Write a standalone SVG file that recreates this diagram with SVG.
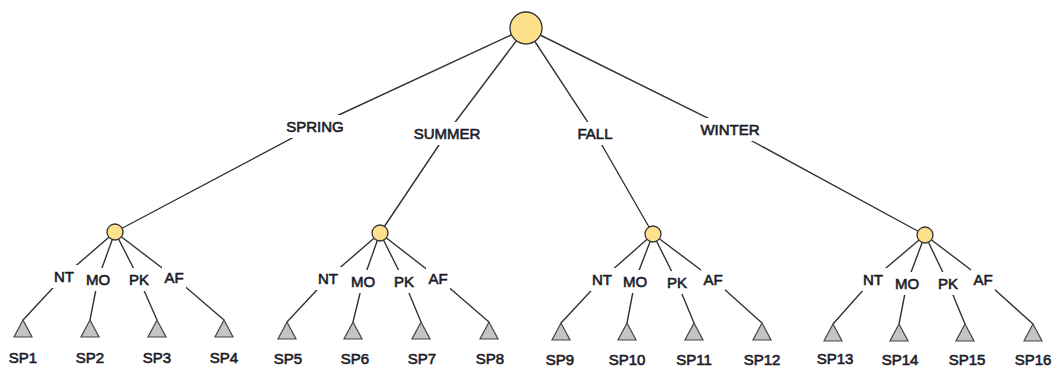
<svg xmlns="http://www.w3.org/2000/svg" xmlns:xlink="http://www.w3.org/1999/xlink" width="1060" height="370" viewBox="0 0 1060 370">
  <style>
    .edge { fill: none; stroke: #333333; stroke-width: 1.4; }
    .hub { fill: #FFE08C; stroke: #333333; stroke-width: 1.3; }
    .leaf { fill: #C4C4C4; stroke: #444444; stroke-width: 1.2; }
    .bg { fill: #ffffff; }
    text { font-family: "Liberation Sans", Arial, sans-serif; font-size: 15px; fill: #1c1c28; stroke: #1c1c28; stroke-width: 0.6; text-anchor: middle; dominant-baseline: central; }
  </style>
  <defs>
    <path id="tri" class="leaf" d="M0,0 L9,17 L-9,17 Z"/>
  </defs>
  <rect width="1060" height="370" fill="#ffffff"/>

  <!-- connectors: each edge bends at its label centre -->
  <g id="connectors">
    <polyline class="edge" points="526,28 315,126 115,232"/>
    <polyline class="edge" points="526,28 447,133 380,233"/>
    <polyline class="edge" points="526,28 595,133 653,234"/>
    <polyline class="edge" points="526,28 730,129 925,235"/>

    <polyline class="edge" points="115,232 64,276 23,320"/>
    <polyline class="edge" points="115,232 98,279 90,320"/>
    <polyline class="edge" points="115,232 139,279 157,320"/>
    <polyline class="edge" points="115,232 174,277 224,320"/>

    <polyline class="edge" points="380,233 328,278 287,322"/>
    <polyline class="edge" points="380,233 363,281 353,322"/>
    <polyline class="edge" points="380,233 404,281 421,322"/>
    <polyline class="edge" points="380,233 438,278 489,322"/>

    <polyline class="edge" points="653,234 602,279 561,323"/>
    <polyline class="edge" points="653,234 635,281 627,323"/>
    <polyline class="edge" points="653,234 677,282 694,323"/>
    <polyline class="edge" points="653,234 713,279 762,323"/>

    <polyline class="edge" points="925,235 873,279 833,324"/>
    <polyline class="edge" points="925,235 907,283 899,324"/>
    <polyline class="edge" points="925,235 948,283 965,324"/>
    <polyline class="edge" points="925,235 983,279 1033,324"/>
  </g>

  <!-- edge labels with white backing -->
  <g id="edge-labels">
    <rect class="bg" x="283" y="115" width="64" height="23"/><text x="315" y="126">SPRING</text>
    <rect class="bg" x="409" y="122" width="76" height="23"/><text x="447" y="133">SUMMER</text>
    <rect class="bg" x="574" y="122" width="42" height="23"/><text x="595" y="133">FALL</text>
    <rect class="bg" x="695" y="118" width="70" height="23"/><text x="730" y="129">WINTER</text>

    <rect class="bg" x="50" y="265" width="28" height="23"/><text x="64" y="276">NT</text>
    <rect class="bg" x="82" y="268" width="32" height="23"/><text x="98" y="279">MO</text>
    <rect class="bg" x="126" y="268" width="26" height="23"/><text x="139" y="279">PK</text>
    <rect class="bg" x="162" y="266" width="24" height="23"/><text x="174" y="277">AF</text>

    <rect class="bg" x="314" y="267" width="28" height="23"/><text x="328" y="278">NT</text>
    <rect class="bg" x="347" y="270" width="32" height="23"/><text x="363" y="281">MO</text>
    <rect class="bg" x="391" y="270" width="26" height="23"/><text x="404" y="281">PK</text>
    <rect class="bg" x="426" y="267" width="24" height="23"/><text x="438" y="278">AF</text>

    <rect class="bg" x="588" y="268" width="28" height="23"/><text x="602" y="279">NT</text>
    <rect class="bg" x="619" y="270" width="32" height="23"/><text x="635" y="281">MO</text>
    <rect class="bg" x="664" y="271" width="26" height="23"/><text x="677" y="282">PK</text>
    <rect class="bg" x="701" y="268" width="24" height="23"/><text x="713" y="279">AF</text>

    <rect class="bg" x="859" y="268" width="28" height="23"/><text x="873" y="279">NT</text>
    <rect class="bg" x="891" y="272" width="32" height="23"/><text x="907" y="283">MO</text>
    <rect class="bg" x="935" y="272" width="26" height="23"/><text x="948" y="283">PK</text>
    <rect class="bg" x="971" y="268" width="24" height="23"/><text x="983" y="279">AF</text>
  </g>

  <!-- root and season hubs -->
  <g id="root"><circle class="hub" cx="526" cy="28" r="16"/></g>
  <g id="spring"><circle class="hub" cx="115" cy="232" r="8"/></g>
  <g id="summer"><circle class="hub" cx="380" cy="233" r="8"/></g>
  <g id="fall"><circle class="hub" cx="653" cy="234" r="8"/></g>
  <g id="winter"><circle class="hub" cx="925" cy="235" r="8"/></g>

  <!-- leaves -->
  <g id="sp1"><use xlink:href="#tri" x="23" y="320"/><text x="23" y="357">SP1</text></g>
  <g id="sp2"><use xlink:href="#tri" x="90" y="320"/><text x="90" y="357">SP2</text></g>
  <g id="sp3"><use xlink:href="#tri" x="157" y="320"/><text x="157" y="357">SP3</text></g>
  <g id="sp4"><use xlink:href="#tri" x="224" y="320"/><text x="224" y="357">SP4</text></g>

  <g id="sp5"><use xlink:href="#tri" x="287" y="322"/><text x="288" y="358">SP5</text></g>
  <g id="sp6"><use xlink:href="#tri" x="353" y="322"/><text x="355" y="358">SP6</text></g>
  <g id="sp7"><use xlink:href="#tri" x="421" y="322"/><text x="422" y="358">SP7</text></g>
  <g id="sp8"><use xlink:href="#tri" x="489" y="322"/><text x="490" y="358">SP8</text></g>

  <g id="sp9"><use xlink:href="#tri" x="561" y="323"/><text x="560" y="359">SP9</text></g>
  <g id="sp10"><use xlink:href="#tri" x="627" y="323"/><text x="627" y="359">SP10</text></g>
  <g id="sp11"><use xlink:href="#tri" x="694" y="323"/><text x="694" y="359">SP11</text></g>
  <g id="sp12"><use xlink:href="#tri" x="762" y="323"/><text x="762" y="359">SP12</text></g>

  <g id="sp13"><use xlink:href="#tri" x="833" y="324"/><text x="835" y="358">SP13</text></g>
  <g id="sp14"><use xlink:href="#tri" x="899" y="324"/><text x="900" y="359">SP14</text></g>
  <g id="sp15"><use xlink:href="#tri" x="965" y="324"/><text x="967" y="359">SP15</text></g>
  <g id="sp16"><use xlink:href="#tri" x="1033" y="324"/><text x="1033" y="359">SP16</text></g>
</svg>
